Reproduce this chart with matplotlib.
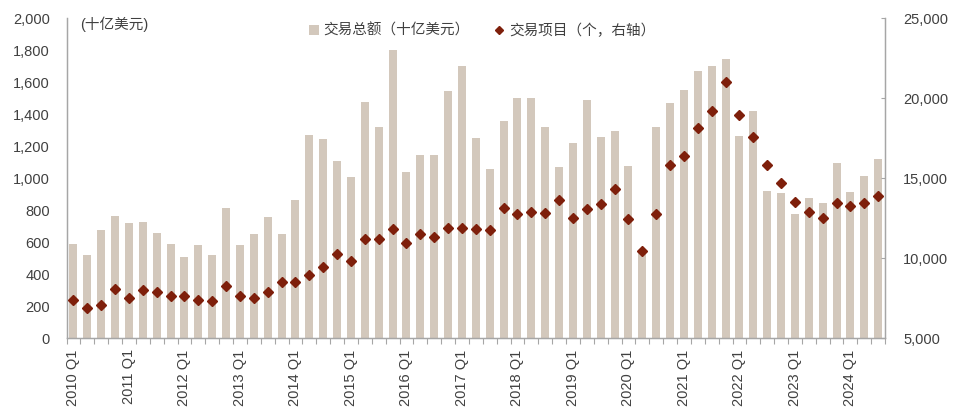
import numpy as np
import matplotlib
matplotlib.use("Agg")
import matplotlib.pyplot as plt
from matplotlib.patches import Patch
from matplotlib.lines import Line2D
from matplotlib.ticker import FuncFormatter

plt.rcParams['font.family'] = ['Liberation Sans', 'Noto Sans CJK SC']

# quarters 2010 Q1 .. 2024 Q3
quarters = [f"{y} Q{q}" for y in range(2010, 2025) for q in range(1, 5)][:59]

# deal value, USD bn (left axis)
deal_value = [587, 519, 675, 764, 720, 725, 660, 587, 506, 585, 519, 812,
              581, 652, 756, 652, 866, 1271, 1246, 1106, 1010, 1473, 1321, 1800,
              1041, 1144, 1148, 1544, 1704, 1254, 1056, 1358, 1504, 1504, 1321, 1071,
              1221, 1491, 1256, 1296, 1078, 550, 1321, 1468, 1552, 1668, 1698, 1744,
              1264, 1421, 919, 910, 779, 879, 845, 1098, 914, 1012, 1123]

# number of deals (right axis)
deal_count = [7394, 6900, 7060, 8060, 7500, 8020, 7875, 7640, 7660, 7375, 7330, 8250,
              7640, 7520, 7890, 8540, 8520, 8970, 9475, 10290, 9810, 11190, 11225, 11830,
              10975, 11520, 11330, 11910, 11910, 11850, 11790, 13160, 12750, 12875, 12830, 13640,
              12500, 13060, 13375, 14310, 12460, 10460, 12770, 15810, 16410, 18160, 19210, 21000,
              18975, 17560, 15830, 14710, 13510, 12890, 12540, 13460, 13270, 13460, 13890]

bar_color = '#D3C8BC'
dot_color = '#7E1F0B'
axis_color = '#A6A6A6'
text_color = '#404040'

x = np.arange(len(quarters))

fig = plt.figure(figsize=(9.6, 4.12), dpi=100)
ax = fig.add_axes([0.0693, 0.179, 0.8527, 0.777])
ax.bar(x, deal_value, width=0.58, color=bar_color, zorder=2)
ax.set_xlim(-0.5, len(quarters) - 0.5)
ax.set_ylim(0, 2000)
ax.set_yticks(range(0, 2001, 200))
ax.yaxis.set_major_formatter(FuncFormatter(lambda v, p: f"{int(v):,}"))

ax2 = ax.twinx()
ax2.plot(x, deal_count, linestyle='none', marker='D', markersize=5.5,
         color=dot_color, zorder=3)
ax2.set_ylim(5000, 25000)
ax2.set_yticks(range(5000, 25001, 5000))
ax2.yaxis.set_major_formatter(FuncFormatter(lambda v, p: f"{int(v):,}"))

# x ticks: labels on Q1, tick marks at quarter boundaries
q1_pos = [i for i, q in enumerate(quarters) if q.endswith("Q1")]
ax.set_xticks(q1_pos)
ax.set_xticklabels([quarters[i] for i in q1_pos], rotation=90, fontsize=10.5,
                   color=text_color)
ax.set_xticks(np.arange(-0.5, len(quarters), 1), minor=True)
ax.tick_params(axis='x', which='major', length=0, pad=8)
ax.tick_params(axis='x', which='minor', length=4, color=axis_color, width=0.8)
ax.tick_params(axis='y', length=0, pad=12, labelsize=10.5, labelcolor=text_color)
ax2.tick_params(axis='y', direction='in', length=3, color=axis_color, pad=13,
                labelsize=10.5, labelcolor=text_color)

for a in (ax, ax2):
    a.spines['top'].set_visible(False)
    for s in ('left', 'right', 'bottom'):
        a.spines[s].set_color(axis_color)
        a.spines[s].set_linewidth(0.9)

ax.text(0.016, 1.005, "(十亿美元)", transform=ax.transAxes, fontsize=10.5,
        color=text_color, va='top', ha='left')

handles = [Patch(facecolor=bar_color, edgecolor='none'),
           Line2D([], [], linestyle='none', marker='D', markersize=4.5, color=dot_color)]
labels = ["交易总额（十亿美元）", "交易项目（个，右轴）"]
fig.legend(handles, labels, loc='upper center', bbox_to_anchor=(0.502, 0.975),
           ncol=2, frameon=False, fontsize=10.5, handlelength=0.7, handleheight=0.7,
           handletextpad=0.3, columnspacing=1.7, labelcolor=text_color)

fig.savefig("out.png", dpi=100)
